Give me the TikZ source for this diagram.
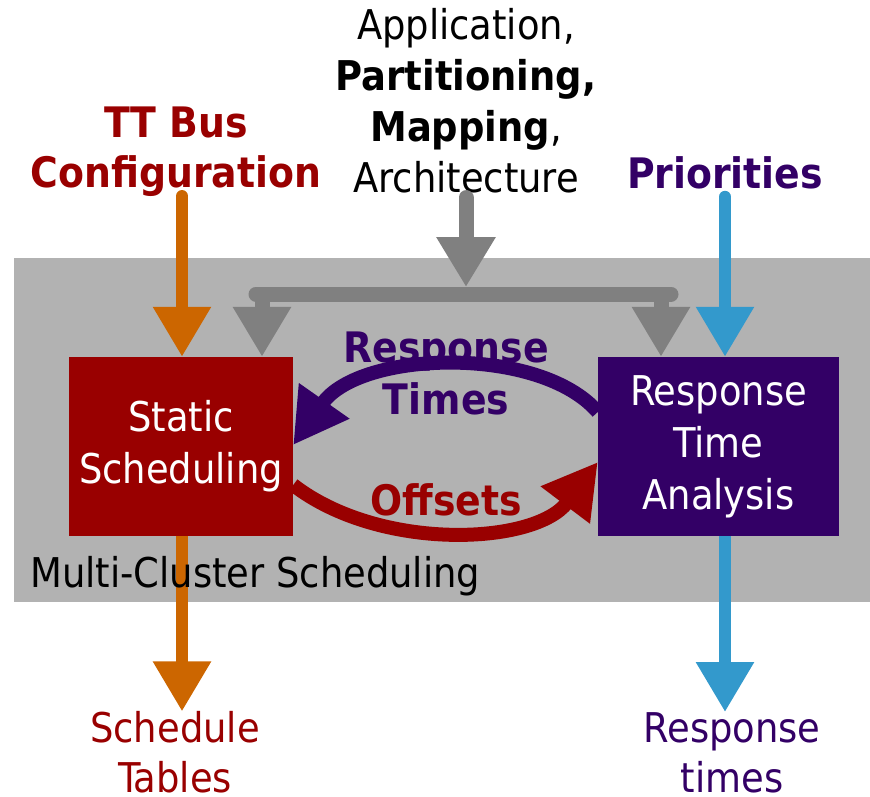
\documentclass[tikz,border=0pt]{standalone}
\usepackage{fontspec}
\setmainfont{DejaVu Sans Condensed}
\usetikzlibrary{positioning,arrows.meta,calc}

\definecolor{mcred}{HTML}{990000}
\definecolor{mcpurple}{HTML}{330066}
\definecolor{mcorange}{HTML}{CC6600}
\definecolor{mcblue}{HTML}{3399CC}
\definecolor{mcgray}{HTML}{808080}
\definecolor{mcback}{HTML}{B2B2B2}

\begin{document}
\begin{tikzpicture}[
  x=1pt, y=-1pt,
  txt/.style={font=\fontsize{41}{50}\selectfont, align=center, inner sep=0pt},
  hot/.style={txt, font=\fontsize{42}{52}\selectfont\bfseries},
  proc/.style={
    minimum width=#1, minimum height=179pt, inner sep=0pt,
    text=white, font=\fontsize{41}{52}\selectfont, align=center
  },
  flow/.style={-{Triangle[length=50pt,width=55pt]}, line width=12pt},
  loop/.style={-{Triangle[length=54pt,width=58pt]}, line width=14pt},
  bus/.style={line width=15pt, mcgray, line cap=round}
]

  \useasboundingbox (0,0) rectangle (870,796);

  % Gray background of the scheduling block
  \fill[mcback] (14,258) rectangle (870,602);

  % Inputs above
  \node[txt, font=\fontsize{41}{51}\selectfont] (inputs) at (466,101)
    {Application,\\\textbf{Partitioning,}\\\textbf{Mapping},\\Architecture};
  \node[hot, text=mcred, font=\fontsize{42}{50}\selectfont\bfseries] (conf) at (176,152)
    {TT Bus\\Configuration};
  \node[hot, text=mcpurple, anchor=base] (prio) at (725,188) {Priorities};

  % The two analysis boxes
  \node[proc=224pt, fill=mcred]    (static) at (181,446.5) {Static\\Scheduling};
  \node[proc=241pt, fill=mcpurple] (rta)    at (718.5,446.5) {Response\\Time\\Analysis};

  % Outputs below
  \node[txt, text=mcred]    (tables) at (175,752.5) {Schedule\\Tables};
  \node[txt, text=mcpurple] (rtimes) at (732,752.5) {Response\\times};

  % Gray bus from the inputs to both boxes
  \coordinate (busL) at (262,294);
  \coordinate (busC) at (466,294);
  \coordinate (busR) at (661,294);
  \draw[bus] ([xshift=-6pt]busL) -- ([xshift=10pt]busR);
  \draw[bus, -{Triangle[length=50pt,width=56pt]}] ([yshift=-4pt]inputs.south) -- ([yshift=7pt]busC);
  \draw[bus, line cap=butt, -{Triangle[length=50pt,width=55pt]}] (busL) -- (busL |- static.north);
  \draw[bus, line cap=butt, -{Triangle[length=50pt,width=55pt]}] (busR) -- (busR |- rta.north);

  % Orange and blue flows
  \draw[flow, mcorange, line cap=round] ([xshift=1pt]static.north |- 0,196) -- ([xshift=1pt]static.north);
  \draw[flow, mcorange] ([xshift=1pt]static.south) -- ([xshift=1pt]static.south |- tables.north);
  \draw[flow, mcblue, line cap=round] ([yshift=-8pt]prio.south) -- (prio.south |- rta.north);
  \draw[flow, mcblue] (prio.south |- rta.south) -- (prio.south |- rtimes.north);

  % Iteration between the boxes
  \draw[loop, mcpurple] (rta.west |- 0,412) .. controls (540,345) and (360,350) .. (static.east |- 0,445);
  \draw[loop, mcred] (static.east |- 0,485) .. controls (380,552) and (535,545) .. (rta.west |- 0,462);

  % Loop labels
  \node[hot, text=mcpurple] (rtlab) at (446,373.5) {Response\\Times};
  \node[hot, text=mcred, anchor=base] (offlab) at (446,515) {Offsets};

  % Block caption
  \node[txt, anchor=base west] (block) at (30,587) {Multi-Cluster Scheduling};

\end{tikzpicture}
\end{document}
